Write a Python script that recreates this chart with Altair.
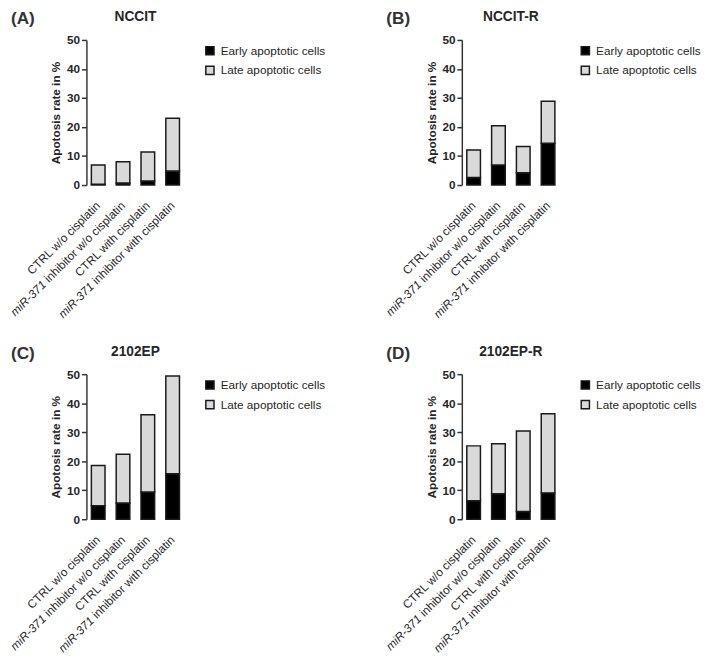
import altair as alt
import pandas as pd

# ---------------- data ----------------
panel_names = ["NCCIT", "NCCIT-R", "2102EP", "2102EP-R"]
panel_letters = ["(A)", "(B)", "(C)", "(D)"]
conditions = [
    "CTRL w/o cisplatin",
    "miR-371 inhibitor w/o cisplatin",
    "CTRL with cisplatin",
    "miR-371 inhibitor with cisplatin",
]
label_italic = ["", "miR-371", "", "miR-371"]
label_plain = ["CTRL w/o cisplatin", "inhibitor w/o cisplatin",
               "CTRL with cisplatin", "inhibitor with cisplatin"]
series = ["Early apoptotic cells", "Late apoptotic cells"]

early_nccit = [0.3, 0.7, 1.4, 4.8]
late_nccit = [6.6, 7.3, 10.0, 18.2]
early_nccit_r = [2.6, 6.9, 4.2, 14.4]
late_nccit_r = [9.5, 13.5, 9.1, 14.5]
early_2102ep = [4.7, 5.6, 9.4, 15.7]
late_2102ep = [13.8, 16.8, 26.6, 33.7]
early_2102ep_r = [6.4, 8.8, 2.7, 9.1]
late_2102ep_r = [18.9, 17.2, 27.7, 27.3]

early_all = [early_nccit, early_nccit_r, early_2102ep, early_2102ep_r]
late_all = [late_nccit, late_nccit_r, late_2102ep, late_2102ep_r]
y_ticks = [0, 10, 20, 30, 40, 50]

# ---------------- style ----------------
FONT = "Liberation Sans"
TXT = "#262626"
AX = "#333333"
W, H = 100, 148
LABEL_FS = 12

# Arial / Liberation Sans advance widths (per 1000 em) for label layout
_w = {" ": 278, "i": 222, "n": 556, "h": 556, "b": 556, "t": 278, "o": 556,
      "r": 333, "w": 722, "/": 278, "c": 500, "s": 500, "p": 556, "l": 222,
      "a": 556}


def text_width(s, fs):
    return sum(_w.get(ch, 556) for ch in s) * fs / 1000.0


def panel(i):
    rows = []
    for j, c in enumerate(conditions):
        rows.append({"cond": c, "series": series[0], "value": early_all[i][j], "ord": 0})
        rows.append({"cond": c, "series": series[1], "value": late_all[i][j], "ord": 1})
    df = pd.DataFrame(rows)

    bars = alt.Chart(df).mark_bar(stroke="#1a1a1a", strokeWidth=1.5).encode(
        x=alt.X("cond:N", sort=conditions,
                scale=alt.Scale(paddingInner=0.45, paddingOuter=0.2),
                axis=alt.Axis(labels=False, title=None, ticks=True, tickSize=5,
                              tickWidth=1.5, tickColor=AX, domainColor=AX,
                              domainWidth=1.5, grid=False)),
        y=alt.Y("value:Q", stack="zero",
                scale=alt.Scale(domain=[0, 50], nice=False),
                axis=alt.Axis(values=y_ticks, title="Apotosis rate in %",
                              titleFont=FONT, titleFontSize=12, titleFontWeight="bold",
                              titleColor=TXT, titlePadding=4,
                              labelFont=FONT, labelFontSize=12, labelFontWeight="bold",
                              labelColor=TXT, labelPadding=2, tickSize=5,
                              tickWidth=1.5, tickColor=AX, domainColor=AX,
                              domainWidth=1.5, grid=False)),
        color=alt.Color("series:N",
                        scale=alt.Scale(domain=series, range=["#000000", "#d9d9d9"]),
                        legend=alt.Legend(title=None, orient="none", legendX=W + 20,
                                          legendY=5, padding=0,
                                          symbolType="square", symbolSize=70,
                                          symbolStrokeColor="#1a1a1a", symbolStrokeWidth=1.5,
                                          symbolOpacity=1,
                                          labelFont=FONT, labelFontSize=12, labelColor=TXT,
                                          labelOffset=5, rowPadding=4)),
        order=alt.Order("ord:Q", sort="ascending"),
    )

    lab_df = pd.DataFrame({"cond": conditions, "plain": label_plain, "ital": label_italic})
    xl = alt.X("cond:N", sort=conditions, axis=None)
    plain = alt.Chart(lab_df).mark_text(
        angle=315, align="right", baseline="middle", font=FONT,
        fontSize=LABEL_FS, color=TXT
    ).encode(x=xl, y=alt.value(H + 19), text="plain:N")

    layers = [bars, plain]
    for j, c in enumerate(conditions):
        if label_italic[j]:
            dx = -(text_width(label_plain[j], LABEL_FS) + text_width(" ", LABEL_FS))
            layers.append(
                alt.Chart(lab_df).transform_filter(alt.datum.cond == c).mark_text(
                    angle=315, align="right", baseline="middle", font=FONT,
                    fontSize=LABEL_FS, fontStyle="italic", color=TXT, dx=dx
                ).encode(x=xl, y=alt.value(H + 19), text="ital:N")
            )

    head = pd.DataFrame({"t": [panel_letters[i]], "name": [panel_names[i]]})
    letter = alt.Chart(head).mark_text(
        align="left", baseline="middle", font=FONT, fontSize=17.5,
        fontWeight="bold", color="#333333"
    ).encode(x=alt.value(-77), y=alt.value(-21), text="t:N")
    title = alt.Chart(head).mark_text(
        align="center", baseline="middle", font=FONT, fontSize=14,
        fontWeight="bold", color=TXT
    ).encode(x=alt.value(W / 2), y=alt.value(-23), text="name:N")
    layers += [letter, title]

    return alt.layer(*layers).properties(width=W, height=H)


chart = alt.concat(
    *[panel(i) for i in range(4)],
    columns=2,
    spacing=alt.RowColnumber(row=193, column=283),
    bounds="flush",
).resolve_legend(color="independent").configure_view(stroke=None).properties(
    padding={"left": 0, "top": -4, "right": 0, "bottom": 0}
)

chart.save("out.html", embed_options={"renderer": "svg", "actions": False})
